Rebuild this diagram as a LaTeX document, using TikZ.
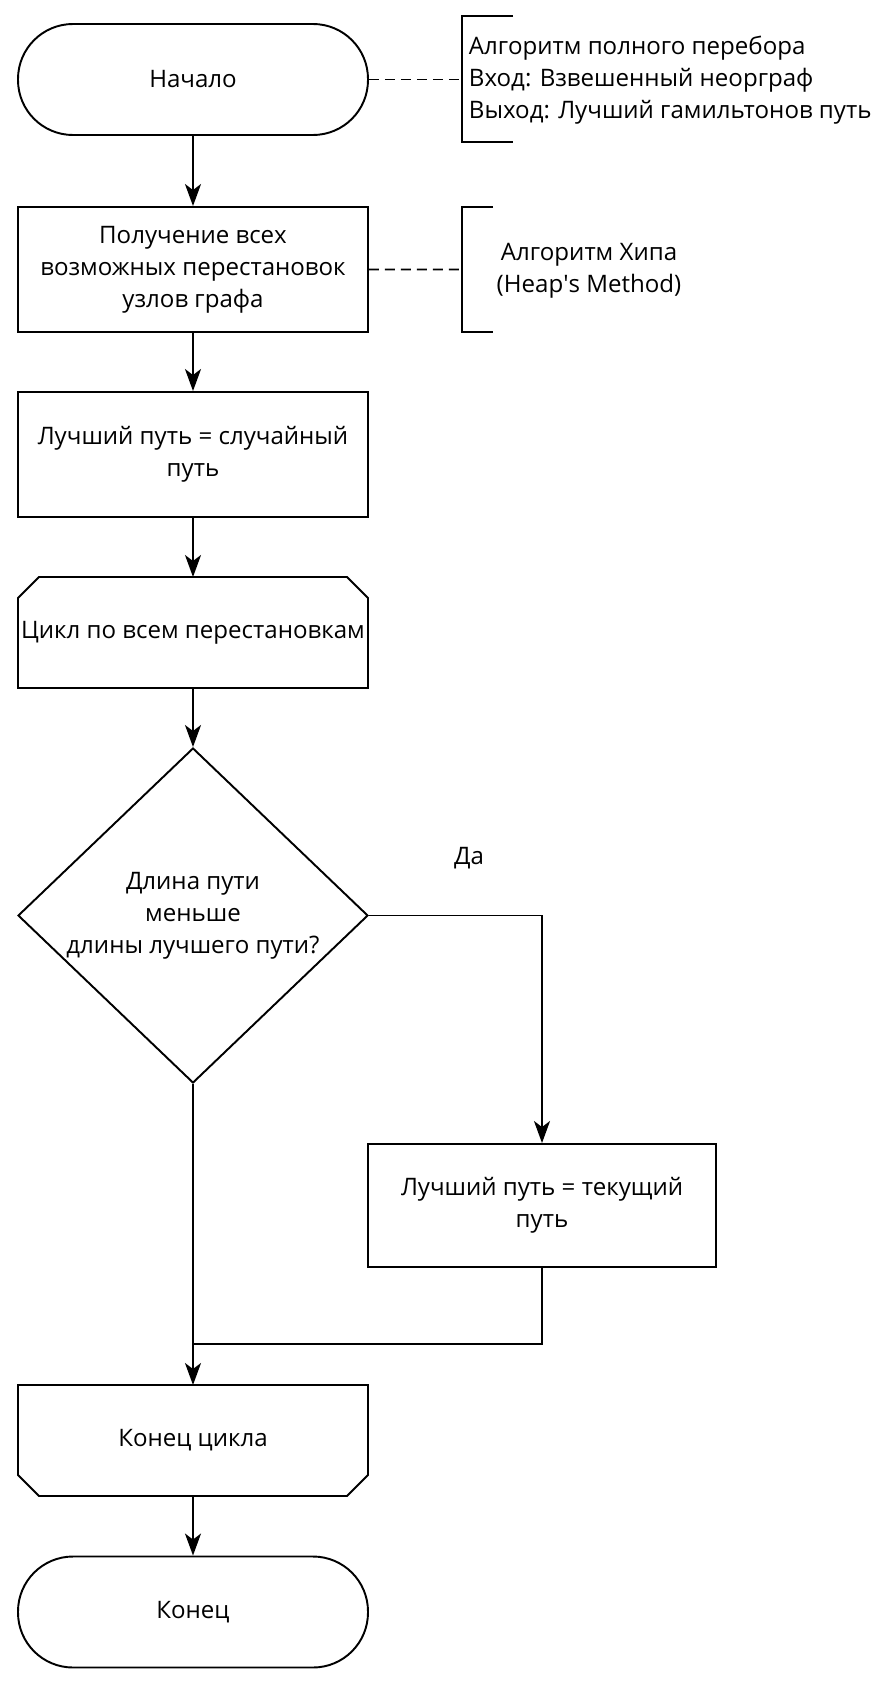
\documentclass[tikz,border=0pt]{standalone}
\usepackage{fontspec}
\setmainfont{Open Sans}
\usetikzlibrary{positioning, shapes.geometric, arrows.meta}

\begin{document}
\begin{tikzpicture}[node distance = 3.8cm, on grid, line width=1.1pt,
	>={Stealth[length=0.44cm, width=0.32cm, inset=0.12cm]},
	every node/.style={font=\fontsize{13.7pt}{18.2pt}\selectfont, align=center},
	term/.style={draw, rectangle, rounded corners=1.1cm, minimum width=7cm, minimum height=2.22cm},
	proc/.style={draw, rectangle, minimum width=7cm, minimum height=2.5cm},
	loopbox/.style={rectangle, inner sep=0pt, outer sep=0pt, minimum width=7cm, minimum height=2.22cm},
	decision/.style={draw, diamond, aspect=1.045, minimum width=7cm, minimum height=6.7cm, inner sep=0pt},
	note/.style={dash pattern=on 0.2cm off 0.12cm}]
			\useasboundingbox (0,0) rectangle (17.76,-33.72);

			\node[term] (start) at (3.86,-1.59) {Начало};
			\node[proc, below=3.8cm of start] (perms) {Получение всех\\возможных перестановок\\узлов графа};
			\node[proc, below=3.7cm of perms] (best) {Лучший путь = случайный\\путь};
			\node[loopbox, below=3.56cm of best] (loop) {};
			\node[inner sep=0pt] (looptext) at (loop) {Цикл по всем перестановкам};
			\node[decision, below=5.66cm of loop] (cond) {};
			\node (condtext) at (cond) {Длина пути\\меньше\\длины лучшего пути?};
			\node[proc, minimum width=6.96cm, minimum height=2.46cm, below right=5.8cm and 6.98cm of cond] (upd) {Лучший путь = текущий\\путь};
			\node[loopbox, below=10.5cm of cond] (loopend) {};
			\node (loopendtext) at (loopend) {Конец цикла};
			\node[term, below=3.43cm of loopend] (finish) {Конец};
			\node (yes) at (9.38,-17.16) {Да};

			% loop limits with cut corners
			\draw (loop.south west) -- ([yshift=-0.42cm]loop.north west) -- ([xshift=0.42cm]loop.north west)
				-- ([xshift=-0.42cm]loop.north east) -- ([yshift=-0.42cm]loop.north east) -- (loop.south east) -- cycle;
			\draw (loopend.north west) -- ([yshift=0.42cm]loopend.south west) -- ([xshift=0.42cm]loopend.south west)
				-- ([xshift=-0.42cm]loopend.south east) -- ([yshift=0.42cm]loopend.south east) -- (loopend.north east) -- cycle;

			% comments on the right
			\draw (10.26,-0.32) -- (9.24,-0.32) -- (9.24,-2.84) -- (10.26,-2.84);
			\coordinate (br1) at (9.24,-1.59);
			\node[anchor=west, align=left, inner sep=0pt] (note1) at (9.36,-1.61)
				{Алгоритм полного перебора\\Вход: Взвешенный неорграф\\Выход: Лучший гамильтонов путь};
			\draw (9.86,-4.14) -- (9.24,-4.14) -- (9.24,-6.64) -- (9.86,-6.64);
			\coordinate (br2) at (9.24,-5.39);
			\node (note2) at (11.78,-5.42) {Алгоритм Хипа\\(Heap\textquotesingle s Method)};
			\draw[note] (start.east) -- (br1);
			\draw[note] (perms.east) -- (br2);

			\draw[->] (start) -- (perms);
			\draw[->] (perms) -- (best);
			\draw[->] (best) -- (loop);
			\draw[->] (loop) -- (cond);
			\draw[->] (cond.east) -| (upd.north);
			\draw[->] (cond.south) -- (loopend.north);
			\coordinate (merge) at (3.86,-26.88);
			\draw (upd.south) |- (merge);
			\draw[->] (loopend) -- (finish);
		\end{tikzpicture}
\end{document}
